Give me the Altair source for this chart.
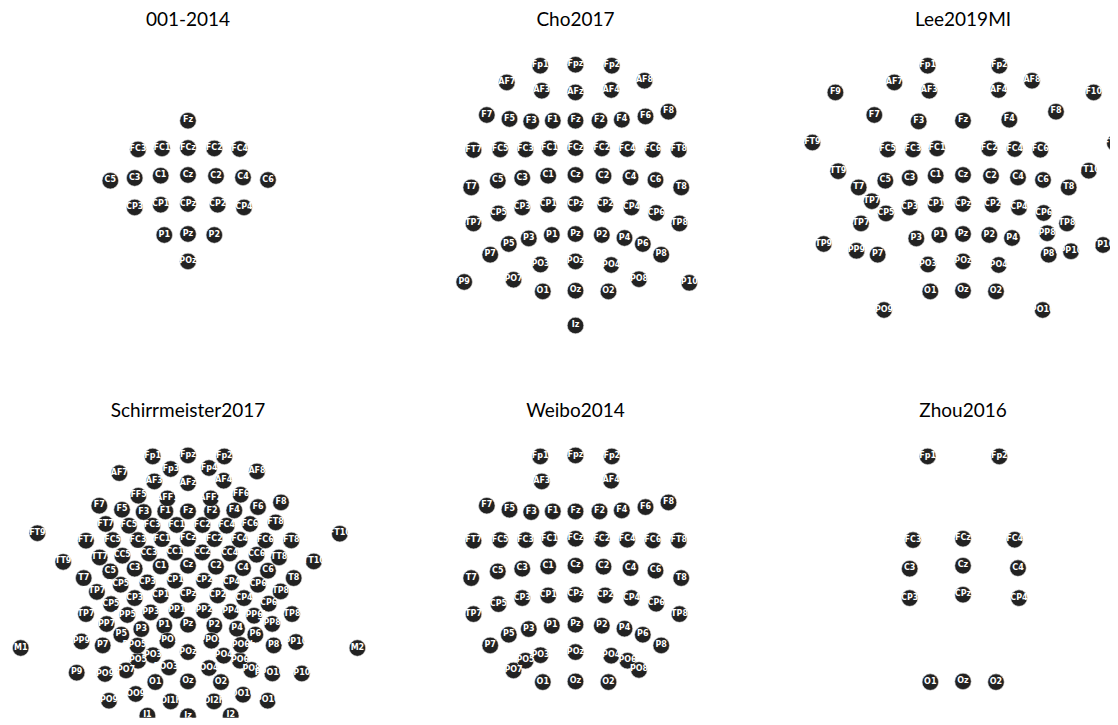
import altair as alt
import pandas as pd

# Electrode positions (x: left→right, y: back→front, Cz = 0,0)
CH_NAMES = [
    "Fp1", "Fpz", "Fp2", "AFp3h", "AFp4h", "AF7", "AF3", "AFz", "AF4", "AF8",
    "F9", "F10", "AFF5h", "AFF1", "AFF2", "AFF6h",
    "F7", "F5", "F3", "F1", "Fz", "F2", "F4", "F6", "F8",
    "FFT7h", "FFC5h", "FFC3h", "FFC1h", "FFC2h", "FFC4h", "FFC6h", "FFT8h",
    "FT9", "FT7", "FC5", "FC3", "FC1", "FCz", "FC2", "FC4", "FC6", "FT8", "FT10",
    "FTT9h", "FTT7h", "FCC5h", "FCC3h", "FCC1h", "FCC2h", "FCC4h", "FCC6h", "FTT8h", "FTT10h",
    "T7", "C5", "C3", "C1", "Cz", "C2", "C4", "C6", "T8",
    "TTP7h", "CCP5h", "CCP3h", "CCP1h", "CCP2h", "CCP4h", "CCP6h", "TTP8h",
    "TP7", "CP5", "CP3", "CP1", "CPz", "CP2", "CP4", "CP6", "TP8",
    "TPP7h", "CPP5h", "CPP3h", "CPP1h", "CPP2h", "CPP4h", "CPP6h", "TPP8h",
    "TP9", "TP10", "TPP9h", "TPP10h", "M1", "M2",
    "P7", "P5", "P3", "P1", "Pz", "P2", "P4", "P6", "P8",
    "PPO5h", "PPO1", "PPO2", "PPO6h",
    "PO5", "PO3", "POz", "PO4", "PO6",
    "P9", "PPO9h", "PO7", "POO3h", "POO4h", "PO8", "PPO10h", "P10",
    "O1", "Oz", "O2", "POO9h", "POO10h", "OI1h", "OI2h", "PO9", "PO10",
    "I1", "Iz", "I2",
]
CH_X = [
    -35.3, 0.0, 36.3, -17.3, 21.0, -68.7, -33.7, 0.0, 35.7, 69.0,
    -127.6, 130.7, -49.6, -20.6, 22.7, 52.7,
    -88.7, -66.0, -44.3, -22.7, 0.0, 24.0, 46.3, 70.0, 93.0,
    -82.3, -59.0, -35.6, -11.3, 14.4, 38.7, 62.0, 87.7,
    -150.6, -102.0, -75.3, -50.0, -26.0, 0.0, 26.3, 51.7, 77.3, 103.3, 151.8,
    -124.8, -88.3, -65.6, -39.0, -13.0, 14.4, 41.7, 68.7, 91.0, 125.8,
    -104.3, -77.7, -53.3, -27.3, 0.0, 28.0, 55.0, 80.0, 105.7,
    -91.1, -67.3, -40.6, -13.0, 16.0, 43.4, 70.0, 92.7,
    -102.0, -77.0, -53.3, -27.3, 0.0, 29.7, 56.0, 80.7, 104.0,
    -81.3, -60.6, -37.3, -11.3, 16.0, 42.7, 66.0, 84.2,
    -139.3, 140.0, -106.5, 108.0, -167.3, 169.4,
    -85.3, -66.7, -46.7, -23.7, 0.0, 26.3, 49.0, 67.3, 85.7,
    -50.6, -20.6, 23.4, 52.7,
    -50.0, -35.0, 0.0, 35.7, 52.0,
    -111.3, -83.0, -62.0, -19.0, 21.0, 63.5, 84.4, 113.8,
    -32.7, 0.0, 33.0, -52.3, 55.0, -17.3, 26.0, -79.0, 79.7,
    -40.6, 0.0, 42.7,
]
CH_Y = [
    109.3, 110.3, 109.3, 96.7, 97.7, 92.6, 84.3, 82.6, 85.0, 94.3,
    82.6, 82.6, 70.0, 67.3, 67.3, 71.0,
    60.0, 56.0, 53.6, 54.3, 54.3, 54.3, 55.3, 58.6, 63.3,
    41.7, 40.0, 40.0, 40.7, 40.7, 40.0, 41.7, 43.3,
    32.5, 25.0, 25.6, 25.6, 26.6, 27.0, 26.6, 26.0, 25.3, 25.3, 32.0,
    3.8, 8.3, 10.0, 12.3, 13.3, 13.3, 12.3, 11.0, 8.3, 4.3,
    -12.4, -5.7, -3.0, -0.7, 0.0, -1.0, -2.4, -5.0, -12.4,
    -26.2, -19.0, -16.7, -15.0, -15.0, -16.7, -19.0, -25.7,
    -48.4, -38.4, -32.4, -29.7, -29.0, -29.7, -32.4, -38.0, -48.4,
    -58.3, -49.3, -46.7, -45.0, -45.0, -46.0, -50.0, -58.2,
    -69.0, -70.0, -75.8, -76.3, -82.3, -82.3,
    -79.7, -69.0, -63.4, -60.0, -59.0, -60.0, -63.0, -69.0, -79.7,
    -80.0, -75.0, -75.0, -79.3,
    -95.0, -89.5, -86.4, -90.0, -95.0,
    -107.0, -108.3, -104.7, -101.7, -102.3, -104.2, -107.7, -107.8,
    -116.4, -115.7, -116.4, -128.3, -129.0, -135.7, -135.7, -135.0, -135.0,
    -150.0, -150.5, -150.0,
]

# Channels of each dataset
CH_001_2014 = ["Fz", "FC3", "FC1", "FCz", "FC2", "FC4", "C5", "C3", "C1", "Cz", "C2",
               "C4", "C6", "CP3", "CP1", "CPz", "CP2", "CP4", "P1", "Pz", "P2", "POz"]
CH_CHO2017 = ["Fp1", "AF7", "AF3", "F1", "F3", "F5", "F7", "FT7", "FC5", "FC3", "FC1",
              "C1", "C3", "C5", "T7", "TP7", "CP5", "CP3", "CP1", "P1", "P3", "P5", "P7",
              "P9", "PO7", "PO3", "O1", "Iz", "Oz", "POz", "Pz", "CPz", "Fpz", "Fp2",
              "AF8", "AF4", "AFz", "Fz", "F2", "F4", "F6", "F8", "FT8", "FC6", "FC4",
              "FC2", "FCz", "Cz", "C2", "C4", "C6", "T8", "TP8", "CP6", "CP4", "CP2",
              "P2", "P4", "P6", "P8", "P10", "PO8", "PO4", "O2"]
CH_LEE2019MI = ["Fp1", "Fp2", "F7", "F3", "Fz", "F4", "F8", "FC5", "FC1", "FC2", "FC6",
                "T7", "C3", "Cz", "C4", "T8", "TP9", "CP5", "CP1", "CP2", "CP6", "TP10",
                "P7", "P3", "Pz", "P4", "P8", "PO9", "O1", "Oz", "O2", "PO10", "FC3",
                "FC4", "C5", "C1", "C2", "C6", "CP3", "CPz", "CP4", "P1", "P2", "POz",
                "FT9", "FTT9h", "TTP7h", "TP7", "TPP9h", "FT10", "FTT10h", "TPP8h", "TP8",
                "TPP10h", "F9", "F10", "AF7", "AF3", "AF4", "AF8", "PO3", "PO4"]
CH_SCHIRRMEISTER2017 = [
    "Fp1", "Fp2", "Fpz", "F7", "F3", "Fz", "F4", "F8", "FC5", "FC1", "FC2", "FC6", "M1",
    "T7", "C3", "Cz", "C4", "T8", "M2", "CP5", "CP1", "CP2", "CP6", "P7", "P3", "Pz",
    "P4", "P8", "POz", "O1", "Oz", "O2", "AF7", "AF3", "AF4", "AF8", "F5", "F1", "F2",
    "F6", "FC3", "FCz", "FC4", "C5", "C1", "C2", "C6", "CP3", "CPz", "CP4", "P5", "P1",
    "P2", "P6", "PO5", "PO3", "PO4", "PO6", "FT7", "FT8", "TP7", "TP8", "PO7", "PO8",
    "FT9", "FT10", "TPP9h", "TPP10h", "PO9", "PO10", "P9", "P10", "AFF1", "AFz", "AFF2",
    "FFC5h", "FFC3h", "FFC4h", "FFC6h", "FCC5h", "FCC3h", "FCC4h", "FCC6h", "CCP5h",
    "CCP3h", "CCP4h", "CCP6h", "CPP5h", "CPP3h", "CPP4h", "CPP6h", "PPO1", "PPO2", "I1",
    "Iz", "I2", "AFp3h", "AFp4h", "AFF5h", "AFF6h", "FFT7h", "FFC1h", "FFC2h", "FFT8h",
    "FTT9h", "FTT7h", "FCC1h", "FCC2h", "FTT8h", "FTT10h", "TTP7h", "CCP1h", "CCP2h",
    "TTP8h", "TPP7h", "CPP1h", "CPP2h", "TPP8h", "PPO9h", "PPO5h", "PPO6h", "PPO10h",
    "POO9h", "POO3h", "POO4h", "POO10h", "OI1h", "OI2h"]
CH_WEIBO2014 = ["Fp1", "Fpz", "Fp2", "AF3", "AF4", "F7", "F5", "F3", "F1", "Fz", "F2",
                "F4", "F6", "F8", "FT7", "FC5", "FC3", "FC1", "FCz", "FC2", "FC4", "FC6",
                "FT8", "T7", "C5", "C3", "C1", "Cz", "C2", "C4", "C6", "T8", "TP7", "CP5",
                "CP3", "CP1", "CPz", "CP2", "CP4", "CP6", "TP8", "P7", "P5", "P3", "P1",
                "Pz", "P2", "P4", "P6", "P8", "PO7", "PO5", "PO3", "POz", "PO4", "PO6",
                "PO8", "O1", "Oz", "O2"]
CH_ZHOU2016 = ["Fp1", "Fp2", "FC3", "FCz", "FC4", "C3", "Cz", "C4", "CP3", "CPz", "CP4",
               "O1", "Oz", "O2"]

POS = {n: (x, y) for n, x, y in zip(CH_NAMES, CH_X, CH_Y)}

Y_DOMAIN = [-152, 130]
PANEL_H = 282


def panel(title, chans, x_domain, dx=0, clip=False):
    df = pd.DataFrame({
        "ch": chans,
        "x": [POS[c][0] for c in chans],
        "y": [POS[c][1] for c in chans],
    })
    width = x_domain[1] - x_domain[0]
    base = alt.Chart(df).encode(
        x=alt.X("x:Q", scale=alt.Scale(domain=x_domain, nice=False, zero=False), axis=None),
        y=alt.Y("y:Q", scale=alt.Scale(domain=Y_DOMAIN, nice=False, zero=False), axis=None),
    )
    dots = base.mark_circle(size=272, color="#222222", opacity=1,
                            stroke="#dddddd", strokeWidth=0.6, clip=clip)
    names = base.mark_text(color="white", font="DejaVu Sans", fontWeight="bold",
                           fontSize=8, baseline="middle", align="center", dy=-0.5,
                           clip=clip).encode(text="ch:N")
    return alt.layer(dots, names).properties(
        width=width, height=PANEL_H,
        title=alt.TitleParams(title, fontSize=19, font="Lato", fontWeight="normal",
                              color="black", anchor="middle", dx=dx, offset=14.6),
    )


FULL = [-180, 180]
RIGHT = [-180, 147]

row1 = alt.hconcat(
    panel("001-2014", CH_001_2014, FULL),
    panel("Cho2017", CH_CHO2017, FULL),
    panel("Lee2019MI", CH_LEE2019MI, RIGHT, dx=16.5, clip=True),
    spacing=27.5, bounds="flush",
)
row2 = alt.hconcat(
    panel("Schirrmeister2017", CH_SCHIRRMEISTER2017, FULL, clip=True),
    panel("Weibo2014", CH_WEIBO2014, FULL, clip=True),
    panel("Zhou2016", CH_ZHOU2016, RIGHT, dx=16.5, clip=True),
    spacing=27.5, bounds="flush",
)

chart = alt.vconcat(row1, row2, spacing=390.7, bounds="flush").properties(
    padding={"top": 3, "left": 0, "right": 0, "bottom": 0}
).configure(background="white").configure_view(stroke=None)

chart.save("out.html", embed_options={"renderer": "svg", "actions": False})
